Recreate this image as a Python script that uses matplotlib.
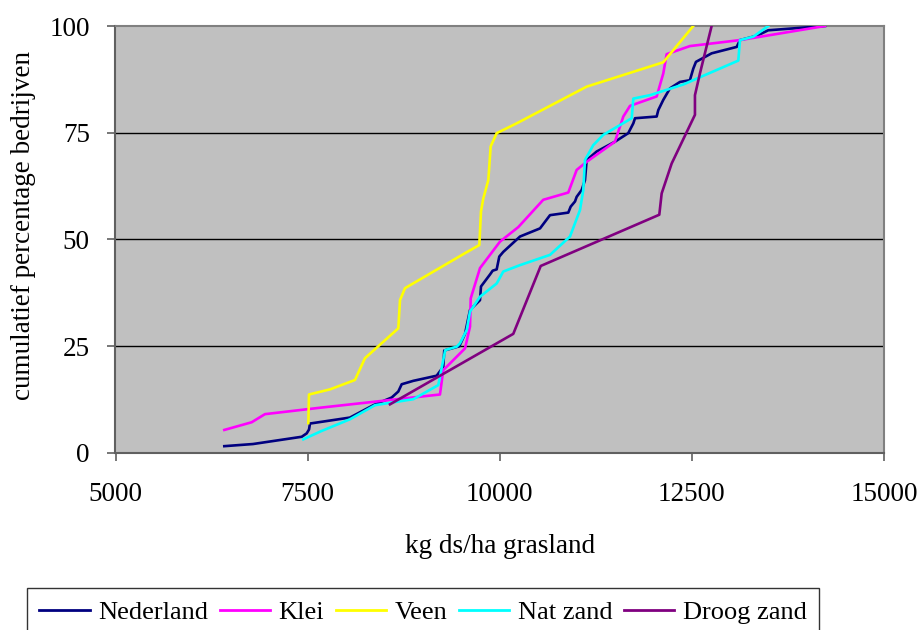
import matplotlib
matplotlib.use("Agg")
import matplotlib.pyplot as plt
from matplotlib.ticker import FixedLocator

plt.rcParams['font.family'] = ['Liberation Serif', 'DejaVu Serif']

series_names = ["Nederland", "Klei", "Veen", "Nat zand", "Droog zand"]
series_colors = ["#000080", "#FF00FF", "#FFFF00", "#00FFFF", "#800080"]

nederland_x = [6416, 6789, 7423, 7488, 7518, 7531, 8051, 8355, 8594, 8680, 8724, 8875, 9179, 9265,
               9278, 9474, 9548, 9613, 9743, 9756, 9873, 9908, 9960, 9994, 10046, 10264, 10524,
               10654, 10892, 10923, 10979, 11001, 11066, 11109, 11131, 11261, 11499, 11672, 11738,
               11760, 12042, 12063, 12128, 12215, 12345, 12474, 12518, 12553, 12757, 13083, 13126,
               13343, 13494, 14232]
nederland_y = [1.6, 2.1, 3.8, 4.6, 5.5, 6.9, 8.3, 11.2, 13.0, 14.4, 16.1, 16.9, 18.1, 20.2,
               24.0, 25.0, 27.9, 33.5, 35.8, 39.0, 41.8, 42.7, 43.0, 46.0, 47.1, 50.7, 52.6,
               55.7, 56.3, 57.7, 58.9, 60.0, 61.6, 63.9, 68.6, 70.6, 72.9, 74.9, 77.2,
               78.4, 78.8, 80.3, 82.7, 85.4, 86.9, 87.3, 90.0, 91.6, 93.6, 95.1, 96.7,
               97.7, 99.0, 100.0]

klei_x = [6416, 6772, 6945, 7661, 9222, 9265, 9548, 9613, 9622, 9743, 10003, 10241, 10566,
          10892, 11001, 11131, 11499, 11608, 11695, 12042, 12128, 12172, 12475, 13126, 14232]
klei_y = [5.4, 7.2, 9.1, 10.6, 13.7, 19.4, 24.5, 29.6, 36.2, 43.3, 49.5, 52.9, 59.3,
          61.0, 66.3, 68.2, 72.9, 78.8, 81.3, 83.5, 88.9, 93.4, 95.3, 96.7, 100.0]

veen_x = [7509, 7518, 7791, 8116, 8246, 8680, 8702, 8767, 9548, 9734, 9756, 9786, 9851, 9882,
          9960, 10220, 11131, 12128, 12518]
veen_y = [7.0, 13.7, 14.9, 17.1, 22.2, 29.2, 35.8, 38.6, 46.8, 48.7, 56.6, 59.6, 63.9, 71.8,
          74.9, 77.2, 85.8, 91.5, 100.0]

natzand_x = [7444, 7661, 8051, 8377, 8875, 9200, 9265, 9291, 9440, 9483, 9570, 9613, 9743, 9960,
             10046, 10264, 10654, 10914, 11044, 11087, 11109, 11217, 11347, 11717, 11738, 11955,
             12388, 13104, 13126, 13299, 13494]
natzand_y = [3.2, 5.0, 7.9, 11.2, 12.6, 15.9, 21.8, 24.1, 24.9, 25.7, 28.8, 33.1, 36.6, 39.7,
             42.5, 44.0, 46.4, 50.7, 56.9, 61.6, 68.6, 72.1, 74.5, 78.4, 83.0, 83.8,
             86.3, 91.9, 96.7, 97.5, 100.0]

droogzand_x = [8572, 10176, 10533, 12076, 12107, 12237, 12540, 12540, 12605, 12757]
droogzand_y = [11.4, 27.9, 43.8, 55.8, 60.8, 67.8, 79.2, 83.8, 88.9, 100.0]

x_ticks = [5000, 7500, 10000, 12500, 15000]
y_ticks = [0, 25, 50, 75, 100]

xs = [nederland_x, klei_x, veen_x, natzand_x, droogzand_x]
ys = [nederland_y, klei_y, veen_y, natzand_y, droogzand_y]

FS = 19.5

fig = plt.figure(figsize=(9.23, 6.30), dpi=100)
ax = fig.add_axes([115.5 / 923, 1 - 453 / 630, (884 - 115.5) / 923, (453 - 26) / 630])
ax.set_facecolor("#C0C0C0")

for yv in [25, 50, 75]:
    ax.axhline(yv, color="black", linewidth=1.0, zorder=1)

for x, y, name, c in zip(xs, ys, series_names, series_colors):
    ax.plot(x, y, color=c, linewidth=1.9, label=name, zorder=3)

ax.set_xlim(5000, 15000)
ax.set_ylim(0, 100)
ax.xaxis.set_major_locator(FixedLocator(x_ticks))
ax.yaxis.set_major_locator(FixedLocator(y_ticks))
ax.set_xticklabels([str(v) for v in x_ticks])
ax.set_yticklabels([str(v) for v in y_ticks])
ax.tick_params(axis='both', direction='out', length=6, width=1.2, color='#606060',
               labelsize=FS)
ax.tick_params(axis='x', pad=15)
ax.tick_params(axis='y', pad=12.5)

for s in ['left', 'bottom']:
    ax.spines[s].set_color('#606060')
    ax.spines[s].set_linewidth(1.5)
for s in ['top', 'right']:
    ax.spines[s].set_color('#808080')
    ax.spines[s].set_linewidth(1.5)

ax.set_xlabel("kg ds/ha grasland", fontsize=FS, labelpad=19)
ax.set_ylabel("cumulatief percentage bedrijven", fontsize=FS)
ax.yaxis.set_label_coords(-0.103, 0.532)

leg = fig.legend(loc='upper left', bbox_to_anchor=(27 / 923, 1 - 588 / 630), ncol=5,
                 fontsize=19, frameon=True, fancybox=False, edgecolor='black',
                 handlelength=1.9, handletextpad=0.32, columnspacing=0.45,
                 borderpad=0.47, borderaxespad=0)
leg.get_frame().set_linewidth(1.0)
for line in leg.get_lines():
    line.set_linewidth(2.0)

fig.savefig("out.png", dpi=100)
